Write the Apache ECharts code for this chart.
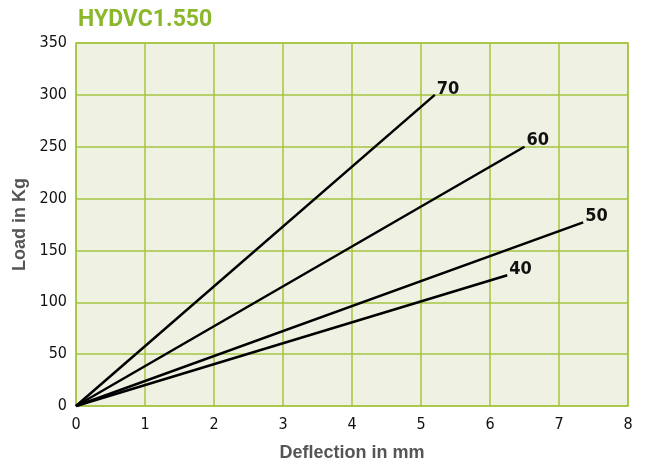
<!DOCTYPE html>
<html>
<head>
<meta charset="utf-8">
<script src="https://cdn.jsdelivr.net/npm/echarts@6/dist/echarts.min.js"></script>
<style>
  html, body { margin: 0; padding: 0; background: #fff; }
  #chart { width: 645px; height: 467px; }
</style>
</head>
<body>
<div id="chart"></div>
<script>
// values
const lineNames = ['70', '60', '50', '40']
const endDeflection = [5.2, 6.5, 7.35, 6.25]
const endLoad = [300, 250, 177, 126]

const narrow = '"DejaVu Sans Condensed", "Liberation Sans", sans-serif'

const chart = echarts.init(document.getElementById('chart'))

const series = lineNames.map((name, i) => ({
  name: name,
  type: 'line',
  data: [[0, 0], [endDeflection[i], endLoad[i]]],
  symbol: 'none',
  lineStyle: { color: '#000', width: 2.5 },
  endLabel: {
    show: true,
    formatter: name,
    color: '#111',
    fontFamily: narrow,
    fontWeight: 'bold',
    fontSize: 18,
    distance: 2,
    offset: [0, -6]
  },
  z: 3
}))

chart.setOption({
  animation: false,
  title: {
    text: 'HYDVC1.550',
    left: 73,
    top: 4,
    textStyle: { color: '#8bb82a', fontSize: 23, fontWeight: 'bold', fontFamily: 'Roboto' }
  },
  grid: { left: 76, right: 17, top: 43, bottom: 59, backgroundColor: '#eff2e2', show: true, borderColor: '#a6c440', borderWidth: 1.5 },
  xAxis: {
    type: 'value',
    min: 0,
    max: 8,
    interval: 1,
    name: 'Deflection in mm',
    nameLocation: 'middle',
    nameGap: 38,
    nameTextStyle: { color: '#555', fontSize: 18, fontWeight: 'bold', fontFamily: 'Liberation Sans' },
    axisLine: { show: false },
    axisTick: { show: false },
    axisLabel: { color: '#111', fontSize: 16, fontFamily: narrow, margin: 11 },
    splitLine: { lineStyle: { color: '#a6c440', width: 1.5 } }
  },
  yAxis: {
    type: 'value',
    min: 0,
    max: 350,
    interval: 50,
    name: 'Load in Kg',
    nameLocation: 'middle',
    nameGap: 46,
    nameTextStyle: { color: '#555', fontSize: 18, fontWeight: 'bold', fontFamily: 'Liberation Sans' },
    axisLine: { show: false },
    axisTick: { show: false },
    axisLabel: { color: '#111', fontSize: 16, fontFamily: narrow, margin: 9 },
    splitLine: { lineStyle: { color: '#a6c440', width: 1.5 } }
  },
  series: series
})
</script>
</body>
</html>
